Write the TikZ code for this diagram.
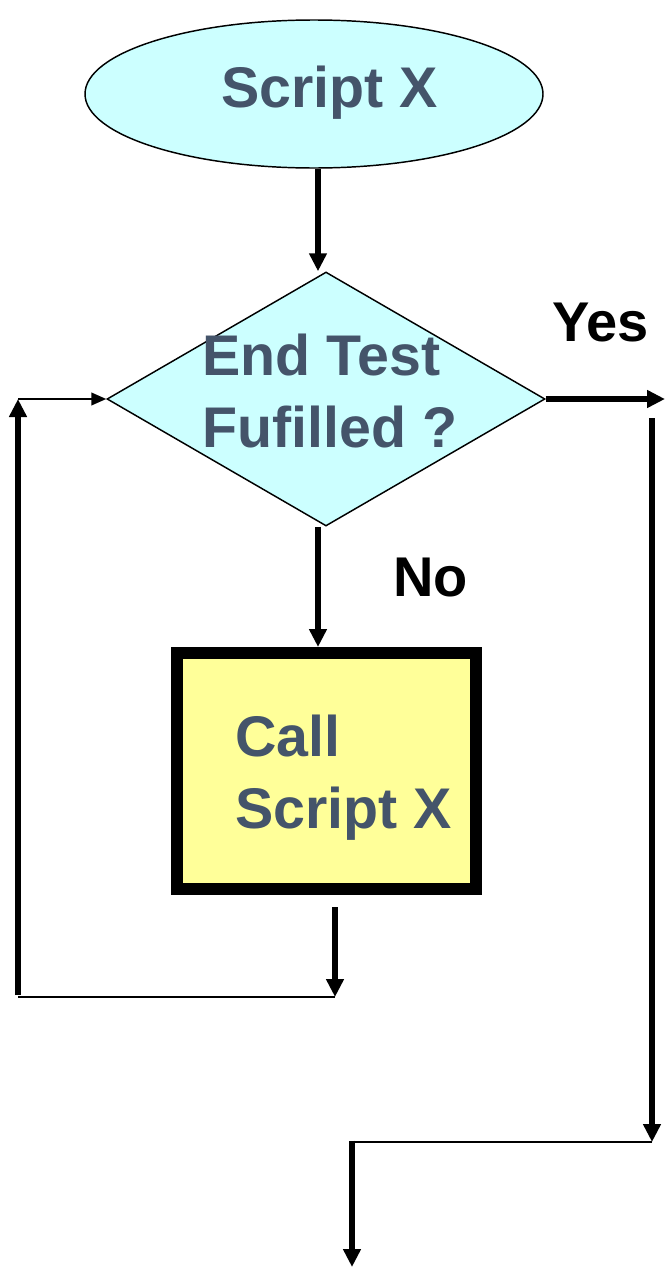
\documentclass[tikz,border=0pt]{standalone}
\usepackage{fontspec}
\setmainfont{Liberation Sans}
\usetikzlibrary{shapes.geometric,arrows.meta}
\definecolor{skyfill}{HTML}{CCFFFF}
\definecolor{padfill}{HTML}{FFFF99}
\definecolor{slate}{HTML}{44546A}
\tikzset{
  shapeline/.style={draw=black, line width=1.1pt, inner sep=0pt},
  boxtext/.style={anchor=base west, inner sep=0pt, text=slate,
    font=\bfseries\fontsize{43}{54}\selectfont},
  answer/.style={anchor=base west, inner sep=0pt, text=black,
    font=\bfseries\fontsize{42}{50}\selectfont},
  flow/.style={line width=4.1pt, -{Triangle[length=13.5pt,width=12.75pt]}},
  thinline/.style={line width=1.5pt},
  thinflow/.style={line width=1.5pt, -{Triangle[length=11.25pt,width=9.5pt]}},
}
\begin{document}
\begin{tikzpicture}[x=0.75pt, y=-0.75pt]
\useasboundingbox (0,0) rectangle (665,1267);

% shapes
\node[shapeline, ellipse, fill=skyfill, minimum width=343.5pt, minimum height=111pt] (start) at (314,94) {};
\node[shapeline, diamond, fill=skyfill, minimum width=328.5pt, minimum height=190.5pt] (test) at (326,399) {};
\node[draw=black, line width=9pt, fill=padfill, inner sep=0pt, minimum width=224.25pt, minimum height=177pt] (call) at (326.5,771) {};

% texts (multi-line labels are anchored at the baseline of their last line)
\node[boxtext] (startlbl) at (221,107) {Script X};
\node[boxtext, align=left] (testlbl) at (202,447) {End Test\\Fufilled ?};
\node[boxtext, align=left] (calllbl) at (235,828) {Call\\Script X};
\node[answer] (yes) at (552,341) {Yes};
\node[answer] (no) at (393,596) {No};

% helper points
\coordinate (axis) at (318,0);
\coordinate (callout) at (335,907);
\coordinate (loopturn) at (335,997);
\coordinate (loopcorner) at (18,997);
\coordinate (looptop) at (18,399);
\coordinate (yesend) at (665,399);
\coordinate (exittop) at (652,418);
\coordinate (exitturn) at (652,1142);
\coordinate (outtop) at (352,1142);
\coordinate (outend) at (352,1267);

% main flow
\draw[flow] (start.south -| axis) -- (test.north -| axis);
\draw[flow] (test.south -| axis) -- (call.north -| axis);

% loop back
\draw[flow] (callout) -- (loopturn);
\draw[thinline] (loopturn) -- (loopcorner);
\draw[flow] ([yshift=1.5pt]loopcorner) -- (looptop);
\draw[thinflow] (looptop) -- (test.west);

% exit
\draw[flow] (test.east) -- (yesend);
\draw[flow] (exittop) -- (exitturn);
\draw[thinline] (exitturn) -- (outtop);
\draw[flow] ([yshift=1pt]outtop) -- (outend);
\end{tikzpicture}
\end{document}
